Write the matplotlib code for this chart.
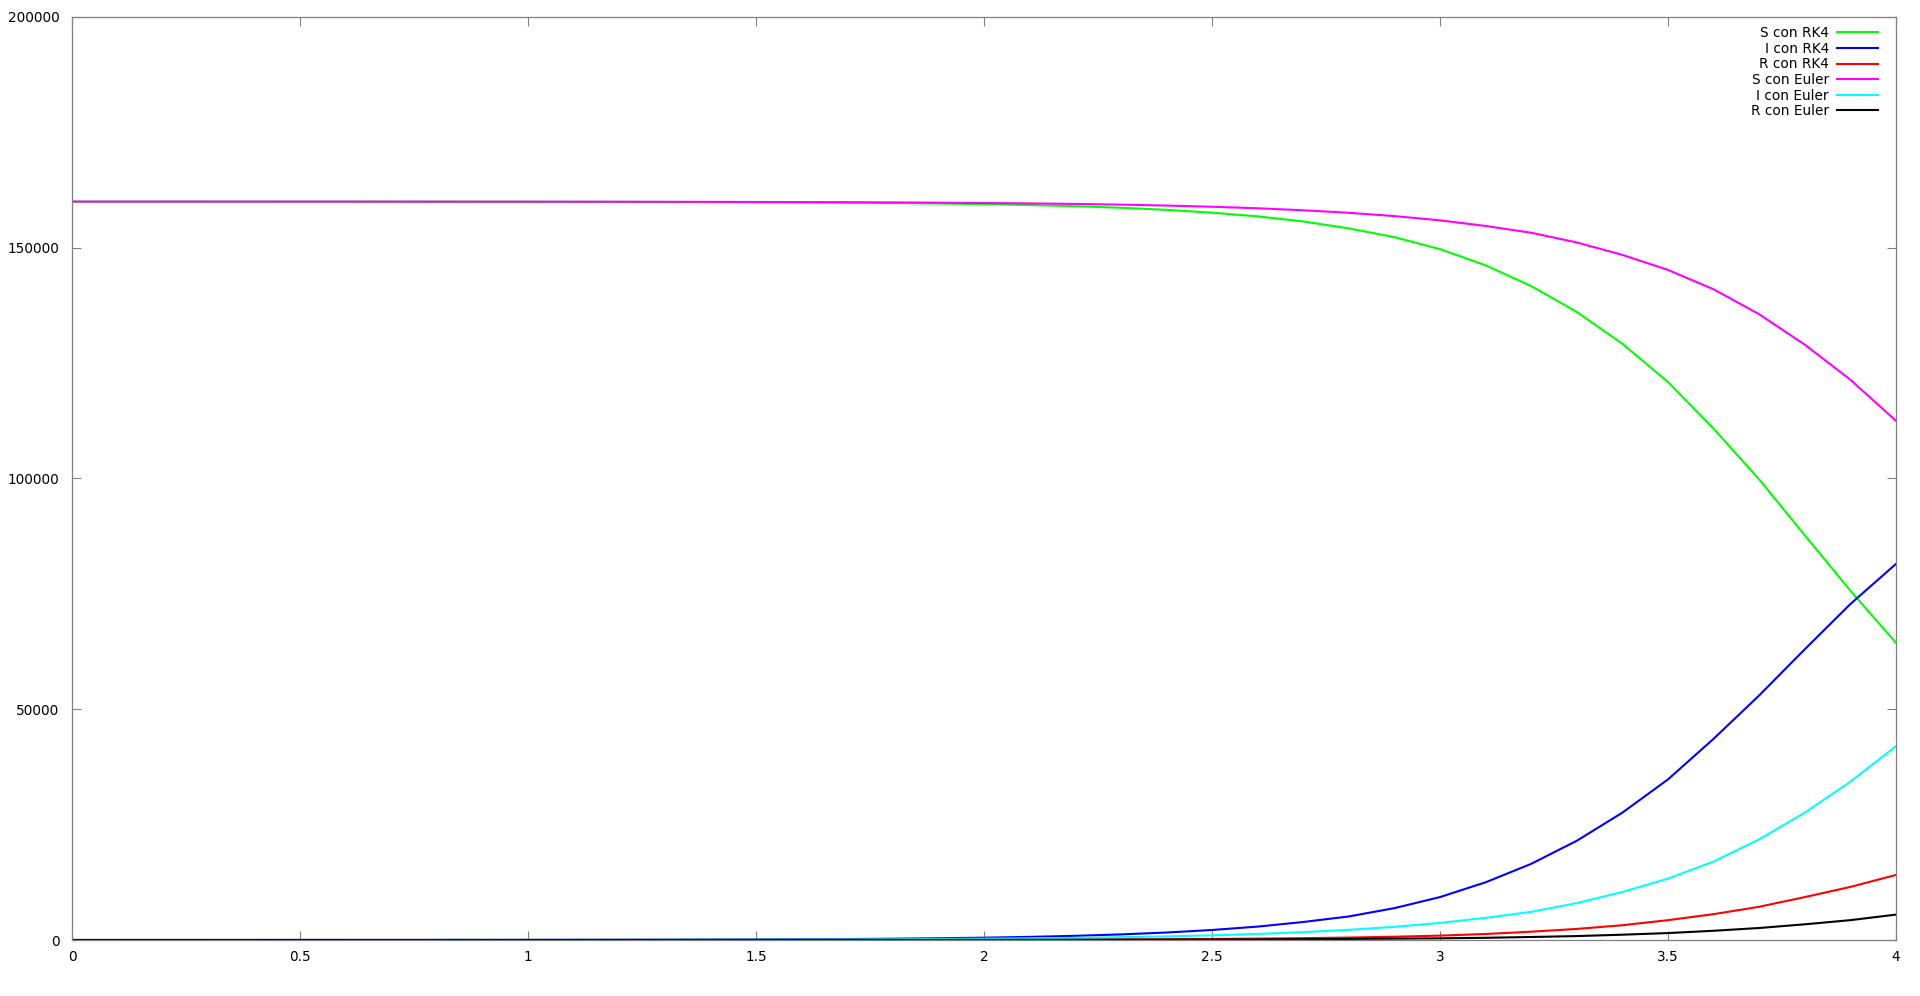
import numpy as np
import matplotlib
matplotlib.use("Agg")
import matplotlib.pyplot as plt
from matplotlib.ticker import FuncFormatter

# tiempo, paso 0.1
t = [i / 10 for i in range(41)]

# RK4
S_rk4 = [159998, 159998, 159997, 159996, 159995, 159993, 159991, 159988, 159983, 159978,
         159970, 159960, 159946, 159928, 159903, 159871, 159827, 159769, 159689, 159584,
         159443, 159255, 159001, 158665, 158212, 157605, 156800, 155700, 154200, 152300,
         149700, 146200, 141700, 136100, 129200, 120900, 110800, 99800, 87700, 75700,
         64400]
I_rk4 = [2, 2, 3, 4, 5, 6, 8, 11, 15, 20,
         27, 36, 49, 65, 88, 117, 157, 210, 282, 377,
         505, 675, 905, 1210, 1620, 2170, 2900, 3900, 5100, 6900,
         9300, 12500, 16500, 21500, 27600, 34800, 43600, 53000, 63000, 72800,
         81500]
R_rk4 = [0, 0, 0, 0, 1, 1, 1, 1, 2, 2,
         3, 4, 5, 7, 9, 12, 16, 21, 29, 39,
         52, 70, 94, 125, 168, 225, 300, 400, 530, 710,
         950, 1300, 1800, 2400, 3200, 4300, 5600, 7200, 9300, 11500,
         14100]

# Euler
S_eu = [159998, 159998, 159997, 159997, 159996, 159994, 159992, 159990, 159987, 159982,
        159978, 159971, 159963, 159952, 159936, 159918, 159893, 159863, 159821, 159769,
        159697, 159609, 159493, 159338, 159140, 158885, 158555, 158125, 157575, 156860,
        155940, 154720, 153250, 151150, 148450, 145200, 141000, 135600, 129000, 121400,
        112500]
I_eu = [2, 2, 3, 3, 4, 6, 7, 9, 12, 16,
        20, 26, 34, 44, 58, 75, 97, 125, 163, 210,
        275, 355, 460, 600, 780, 1010, 1310, 1700, 2200, 2850,
        3700, 4800, 6100, 8000, 10400, 13300, 17000, 21800, 27600, 34300,
        42000]
R_eu = [0, 0, 0, 0, 0, 1, 1, 1, 1, 2,
        2, 3, 3, 4, 6, 7, 10, 12, 16, 21,
        28, 36, 47, 62, 80, 105, 135, 175, 225, 290,
        360, 480, 650, 850, 1150, 1500, 2000, 2600, 3400, 4300,
        5500]

series = [
    ("S con RK4", S_rk4, "#00ff00"),
    ("I con RK4", I_rk4, "#0000ff"),
    ("R con RK4", R_rk4, "#ff0000"),
    ("S con Euler", S_eu, "#ff00ff"),
    ("I con Euler", I_eu, "#00ffff"),
    ("R con Euler", R_eu, "#000000"),
]

plt.rcParams['font.family'] = ['DejaVu Sans']
plt.rcParams['font.size'] = 9.8

fig = plt.figure(figsize=(19.2, 9.96), dpi=100)
ax = fig.add_axes([72 / 1920, 1 - 940 / 996, 1824 / 1920, 923 / 996])

for label, vals, col in series:
    ax.plot(t, vals, color=col, lw=1.5, label=label)

ax.set_xlim(0, 4)
ax.set_ylim(0, 200000)
ax.set_xticks(np.arange(0, 4.01, 0.5))
ax.set_yticks(np.arange(0, 200001, 50000))
ax.xaxis.set_major_formatter(FuncFormatter(lambda v, p: "%g" % v))
ax.yaxis.set_major_formatter(FuncFormatter(lambda v, p: "%d" % v))
ax.tick_params(direction='in', length=6.5, width=0.8, color='#808080',
               top=True, right=True, labelsize=9.8)
ax.tick_params(axis='x', pad=7)
ax.tick_params(axis='y', pad=9)
for sp in ax.spines.values():
    sp.set_color('#808080')
    sp.set_linewidth(0.9)

ax.legend(loc='upper right', bbox_to_anchor=(1878 / 1920, 1 - 26 / 996),
          bbox_transform=fig.transFigure, frameon=False, markerfirst=False,
          borderpad=0, borderaxespad=0, handlelength=3.0, handletextpad=0.6,
          labelspacing=0.12, fontsize=9.8)

fig.savefig("out.png", dpi=100)
